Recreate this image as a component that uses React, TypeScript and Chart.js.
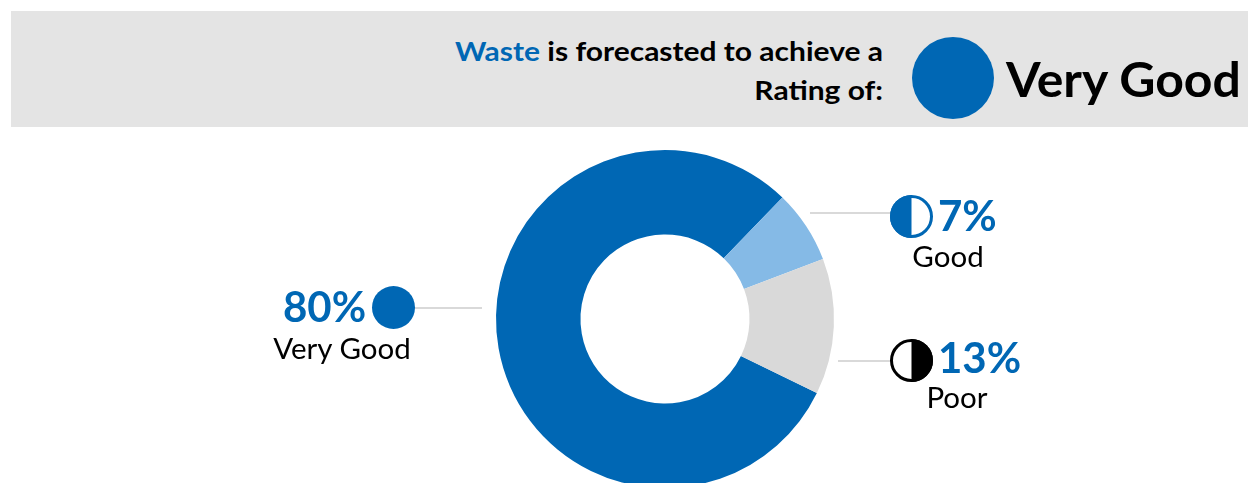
import React, { useEffect, useRef } from "react";
import { Chart, registerables } from "chart.js";

Chart.register(...registerables);

const categories = ["Very Good", "Good", "Poor"];
const values = [80, 7, 13];
const sliceColors = ["#0067B4", "#85BAE6", "#D9D9D9"];
const BLUE = "#0067B4";
const FONT = "Lato, Carlito, sans-serif";

type TextProps = {
  x: number;
  y: number;
  size: number;
  weight?: number;
  color?: string;
  align?: "left" | "center" | "right";
  sx?: number;
  children: React.ReactNode;
};

function Label({ x, y, size, weight = 400, color = "#000", align = "left", sx = 1, children }: TextProps) {
  const shift = align === "center" ? "translateX(-50%) " : align === "right" ? "translateX(-100%) " : "";
  return (
    <div
      style={{
        position: "absolute",
        left: x,
        top: y,
        fontFamily: FONT,
        fontSize: size,
        fontWeight: weight,
        color,
        lineHeight: 1,
        whiteSpace: "nowrap",
        transformOrigin: align,
        transform: `${shift}scaleX(${sx})`,
      }}
    >
      {children}
    </div>
  );
}

function Rule({ x, y, w }: { x: number; y: number; w: number }) {
  return <div style={{ position: "absolute", left: x, top: y, width: w, height: 2, background: "#D9D9D9" }} />;
}

function HalfIcon({ x, y, d, color, side }: { x: number; y: number; d: number; color: string; side: "left" | "right" }) {
  const r = d / 2;
  const path =
    side === "left"
      ? `M ${r} 0 A ${r} ${r} 0 0 0 ${r} ${d} Z`
      : `M ${r} 0 A ${r} ${r} 0 0 1 ${r} ${d} Z`;
  return (
    <svg width={d} height={d} style={{ position: "absolute", left: x, top: y }}>
      <circle cx={r} cy={r} r={r - 1.5} fill="#fff" stroke={color} strokeWidth={3} />
      <path d={path} fill={color} />
    </svg>
  );
}

export default function App() {
  const ref = useRef<HTMLCanvasElement | null>(null);

  useEffect(() => {
    document.body.style.margin = "0";
    const chart = new Chart(ref.current as HTMLCanvasElement, {
      type: "doughnut",
      data: {
        labels: categories,
        datasets: [
          {
            data: values,
            backgroundColor: sliceColors,
            borderWidth: 0,
          },
        ],
      },
      options: {
        responsive: false,
        animation: false,
        rotation: 116,
        radius: 169,
        cutout: "50%",
        layout: { padding: 0 },
        plugins: { legend: { display: false }, tooltip: { enabled: false } },
      } as any,
    });
    return () => chart.destroy();
  }, []);

  return (
    <div style={{ position: "relative", width: 1248, height: 483, overflow: "hidden", background: "#fff" }}>
      <canvas ref={ref} width={1330} height={638} style={{ position: "absolute", left: 0, top: 0, width: 1330, height: 638 }} />

      <div style={{ position: "absolute", left: 11, top: 11, width: 1237, height: 116, background: "#E4E4E4" }} />
      <Label x={883} y={37} size={27} weight={700} align="right" sx={1.11}>
        <span style={{ color: BLUE }}>Waste</span> is forecasted to achieve a
      </Label>
      <Label x={883} y={76} size={27} weight={700} align="right" sx={1.11}>
        Rating of:
      </Label>
      <div style={{ position: "absolute", left: 912, top: 37, width: 82, height: 82, borderRadius: "50%", background: BLUE }} />
      <Label x={1006} y={55} size={48} weight={700} sx={1.04}>
        Very Good
      </Label>

      <Rule x={414} y={307} w={68} />
      <Rule x={810} y={212} w={82} />
      <Rule x={838} y={360} w={54} />

      <Label x={283} y={285} size={42} weight={700} color={BLUE}>
        80%
      </Label>
      <div style={{ position: "absolute", left: 372, top: 286, width: 43, height: 43, borderRadius: "50%", background: BLUE }} />
      <Label x={342} y={333} size={29.5} align="center">
        Very Good
      </Label>

      <HalfIcon x={890} y={195} d={43} color={BLUE} side="left" />
      <Label x={938} y={194} size={42} weight={700} color={BLUE}>
        7%
      </Label>
      <Label x={948} y={241} size={29.5} align="center">
        Good
      </Label>

      <HalfIcon x={890} y={339} d={43} color="#000" side="right" />
      <Label x={938} y={336} size={42} weight={700} color={BLUE}>
        13%
      </Label>
      <Label x={957} y={382} size={29.5} align="center">
        Poor
      </Label>
    </div>
  );
}
